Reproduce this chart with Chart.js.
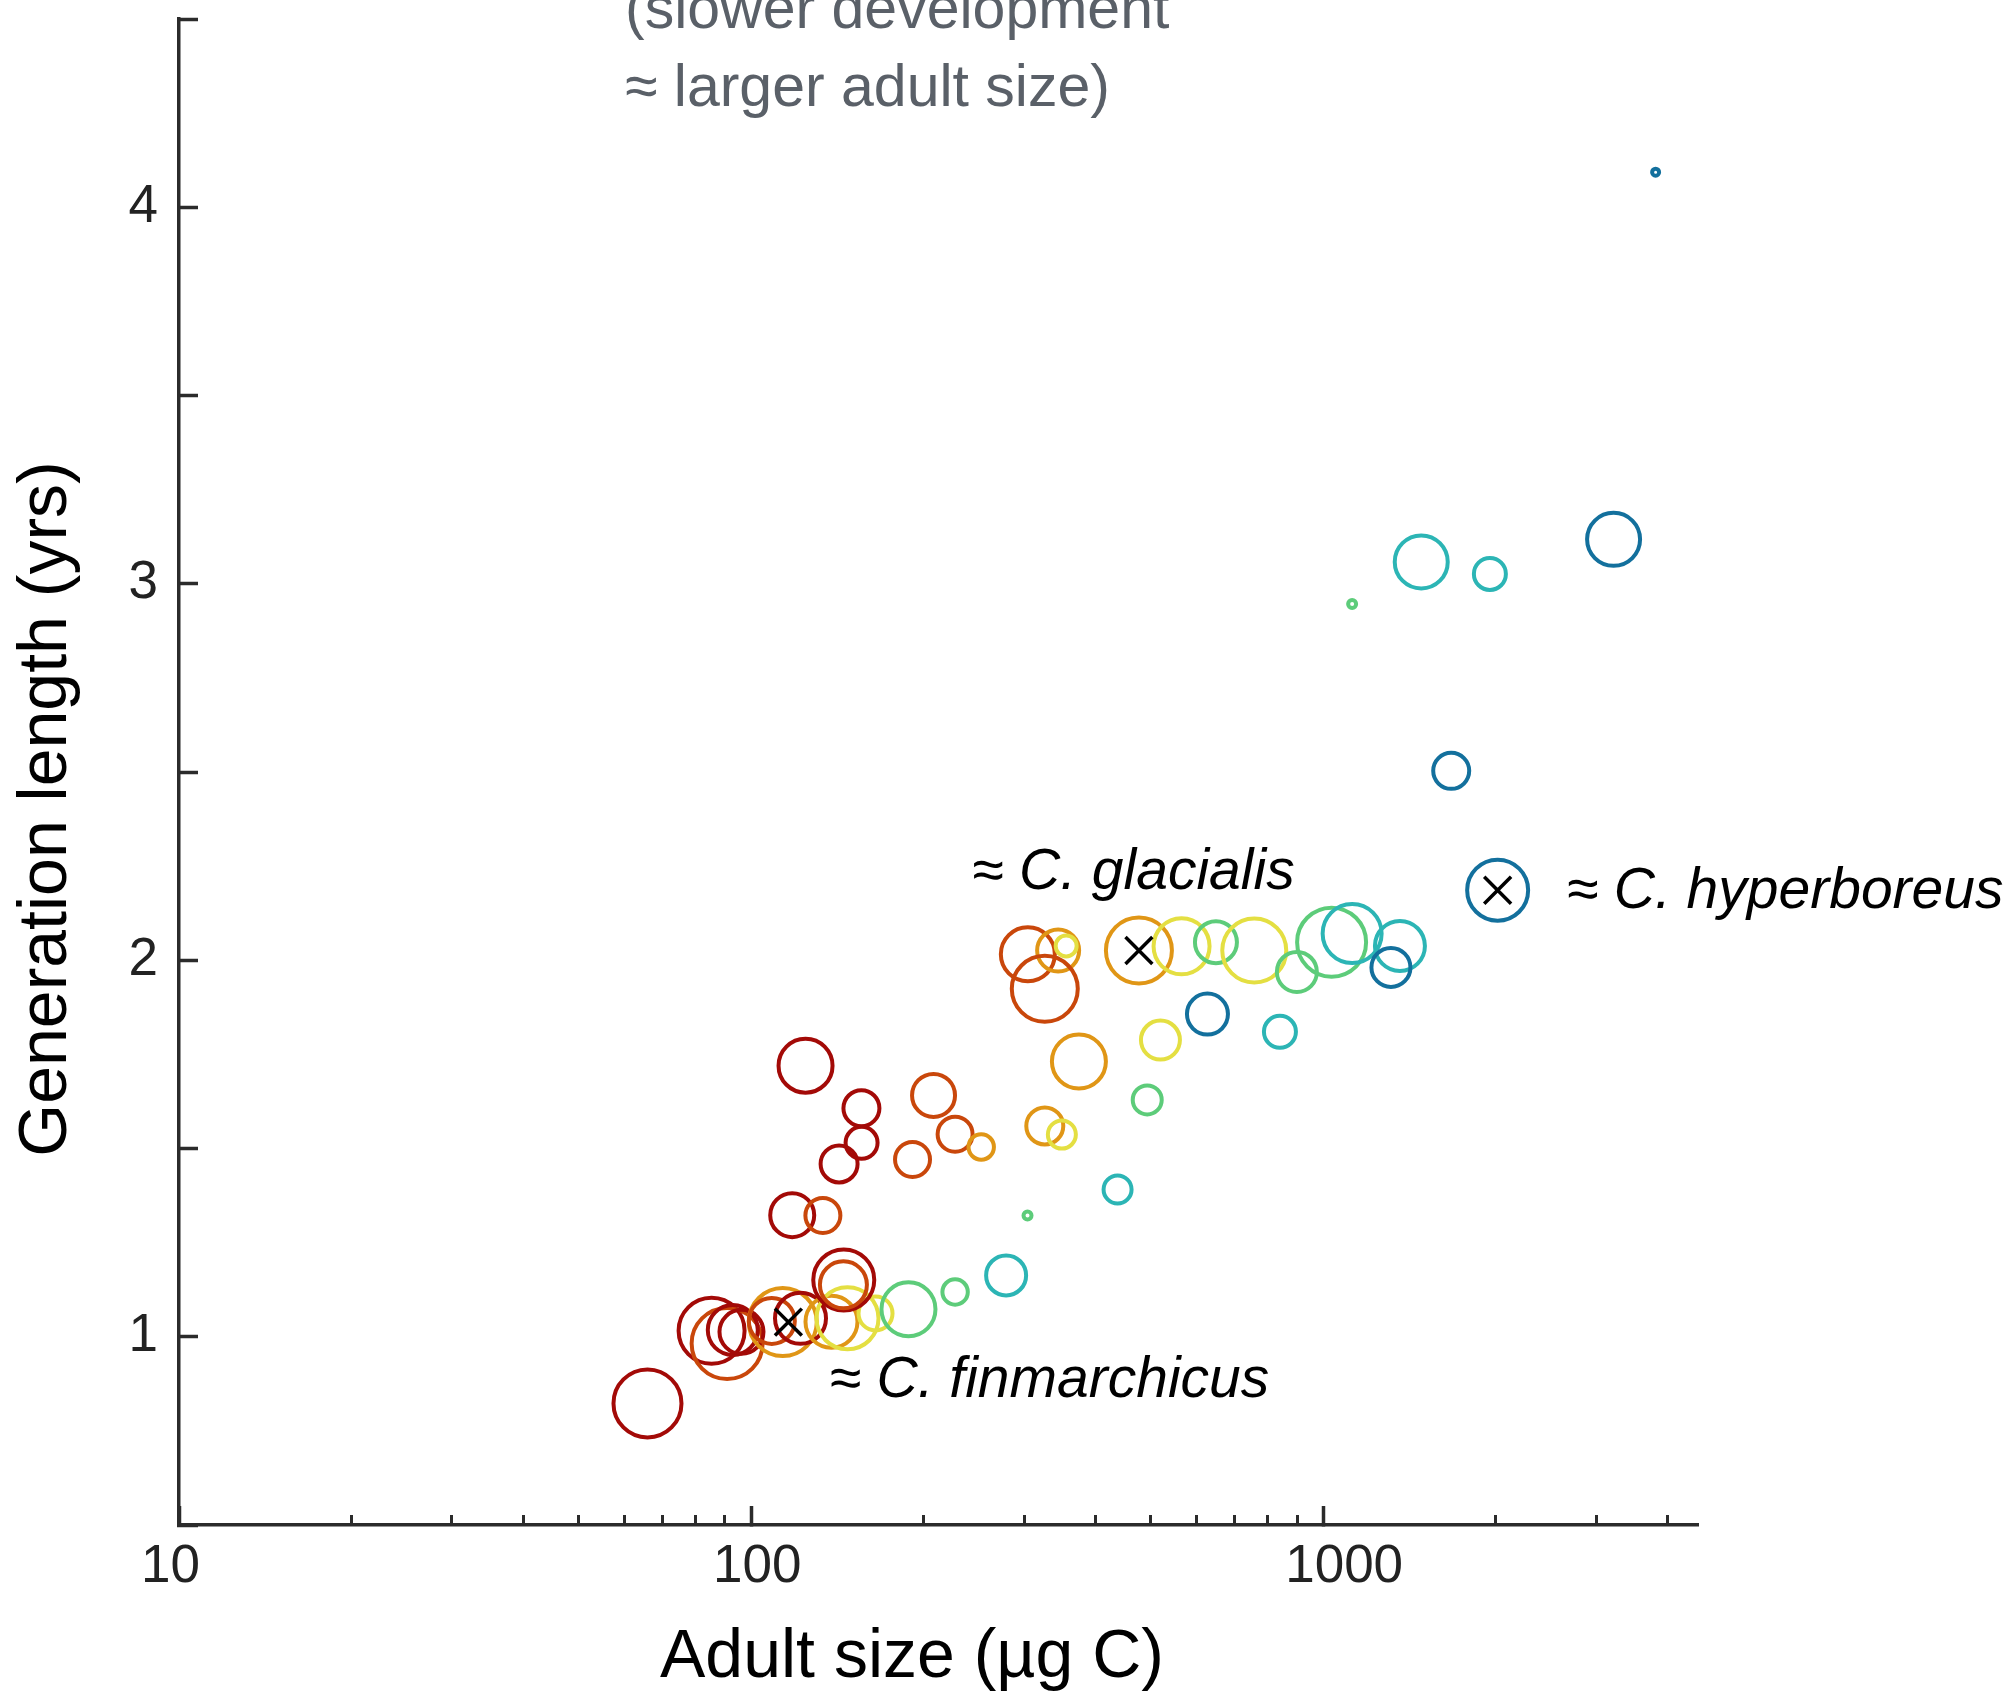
<!DOCTYPE html>
<html>
<head>
<meta charset="utf-8">
<title>Generation length vs adult size</title>
<script src="https://cdn.jsdelivr.net/npm/chart.js@4/dist/chart.umd.min.js"></script>
<style>
  html, body { margin: 0; padding: 0; background: #ffffff; }
  #wrap { width: 2014px; height: 1694px; }
  canvas { display: block; }
</style>
</head>
<body>
<div id="wrap"><canvas id="chart" width="2014" height="1694"></canvas></div>
<script>
// ---- data -------------------------------------------------------------
// adult body carbon (µg C) and generation length (years) per model population
const adultSize = [
  65.9, 85.3, 90.8, 92.9, 96.2, 113.6, 108.7, 122.0, 138.2, 147.4,
  165.0, 145.2, 145.0, 188.4, 227.3, 279.1, 304.2, 437.1, 118.0, 133.5,
  142.5, 156.0, 155.9, 124.5, 191.5, 208.4, 227.3, 252.5, 326.1, 349.3,
  374.1, 492.5, 519.4, 627.6, 840.2, 304.6, 344.1, 355.4, 326.1, 476.3,
  565.5, 649.4, 757.7, 899.5, 1034.4, 1123.5, 1361.8, 1313.4, 2018, 1674,
  1123.5, 1483.8, 1956, 3218, 3811
];
const generationYears = [
  0.823, 1.016, 0.982, 1.018, 1.013, 1.039, 1.042, 1.049, 1.040, 1.049,
  1.062, 1.151, 1.138, 1.073, 1.119, 1.163, 1.322, 1.391, 1.323, 1.322,
  1.459, 1.515, 1.607, 1.720, 1.471, 1.641, 1.538, 1.504, 1.560, 1.537,
  1.731, 1.629, 1.788, 1.857, 1.810, 2.016, 2.026, 2.038, 1.924, 2.026,
  2.037, 2.048, 2.026, 1.969, 2.048, 2.071, 2.038, 1.981, 2.186, 2.503,
  2.946, 3.058, 3.026, 3.118, 4.093
];
// bubble radius (px) per population
const bubbleRadius = [
  34, 33, 35.5, 25, 22, 34, 23, 25.5, 26, 31,
  17, 30.5, 23.5, 27, 12.7, 20, 4, 14, 22, 17.5,
  18.5, 16, 18, 27, 17.5, 21.5, 17.5, 12.7, 18.5, 14,
  27, 14.5, 19.5, 20.5, 16, 27, 21, 10.5, 33, 33,
  28, 21, 32, 20, 34.5, 29.5, 25, 19.5, 30.5, 18,
  4, 26.5, 16, 26.5, 3.5
];
// colour class per population (0 = warmest ... 6 = coldest)
const colourClass = [
  0, 0, 1, 0, 0, 2, 1, 0, 2, 3,
  3, 0, 1, 4, 4, 5, 4, 5, 0, 1,
  0, 0, 0, 0, 1, 1, 1, 2, 2, 3,
  2, 4, 3, 6, 5, 1, 2, 3, 1, 2,
  3, 4, 3, 4, 4, 5, 5, 6, 6, 6,
  4, 5, 5, 6, 6
];
const classColours = ['#a30a07', '#c9470b', '#e09616', '#e4df42', '#5dcc7a', '#2cb5b5', '#13709d'];

// named reference species
const speciesNames = ['≈ C. finmarchicus', '≈ C. glacialis', '≈ C. hyperboreus'];
const speciesSize  = [116.2, 476.3, 2018];
const speciesGen   = [1.039, 2.026, 2.186];

// axis ticks
const xMajorTicks = [10, 100, 1000];
const xMinorTicks = [20, 30, 40, 50, 60, 70, 80, 90, 200, 300, 400, 500, 600, 700, 800, 900, 2000, 3000, 4000];
const yTicks      = [0.5, 1, 1.5, 2, 2.5, 3, 3.5, 4, 4.5];
const yTickLabels = ['', '1', '', '2', '', '3', '', '4', ''];

// titles and notes
const xTitle = 'Adult size (µg C)';
const yTitle = 'Generation length (yrs)';
const noteLines = ['(slower development', '≈ larger adult size)'];

// ---- chart ------------------------------------------------------------
const AXIS = '#2b2b2b';
const FONT = '"Liberation Sans", Arial, sans-serif';

const bubbles = adultSize.map((x, i) => ({ x, y: generationYears[i], r: bubbleRadius[i] }));
const bubbleColours = colourClass.map(c => classColours[c]);
const speciesPoints = speciesSize.map((x, i) => ({ x, y: speciesGen[i] }));

// offsets of the species labels from their markers
const labelOffsets = [[41, 75], [-167, -61], [69, 18]];

// keep the axes from reserving extra room for their end labels
const noEdgePadding = s => {
  s.paddingTop = 0; s.paddingBottom = 0; s.paddingLeft = 0; s.paddingRight = 0;
};

const textPlugin = {
  id: 'chartText',
  afterDraw(chart) {
    const ctx = chart.ctx;
    const xs = chart.scales.x, ys = chart.scales.y;
    ctx.save();
    // species labels
    ctx.fillStyle = '#000';
    ctx.font = 'italic 57px ' + FONT;
    ctx.textAlign = 'left';
    ctx.textBaseline = 'alphabetic';
    speciesNames.forEach((name, i) => {
      const px = xs.getPixelForValue(speciesSize[i]);
      const py = ys.getPixelForValue(speciesGen[i]);
      ctx.fillText(name, px + labelOffsets[i][0], py + labelOffsets[i][1]);
    });
    // note at the top
    ctx.fillStyle = '#5a6068';
    ctx.font = '59px ' + FONT;
    ctx.fillText(noteLines[0], 625, 28);
    ctx.fillText(noteLines[1], 625, 106);
    // axis titles
    ctx.fillStyle = '#000';
    ctx.font = '68px ' + FONT;
    ctx.textAlign = 'center';
    ctx.fillText(xTitle, 912, 1677);
    ctx.translate(66, 809);
    ctx.rotate(-Math.PI / 2);
    ctx.fillText(yTitle, 0, 0);
    ctx.restore();
  }
};

new Chart(document.getElementById('chart'), {
  type: 'bubble',
  data: {
    datasets: [
      {
        type: 'scatter',
        label: 'reference species',
        data: speciesPoints,
        pointStyle: 'crossRot',
        pointRadius: 19,
        borderWidth: 3.5,
        borderColor: '#000',
        backgroundColor: '#000',
        order: 0
      },
      {
        label: 'populations',
        data: bubbles,
        pointStyle: 'circle',
        borderColor: bubbleColours,
        backgroundColor: 'rgba(0,0,0,0)',
        borderWidth: 4,
        order: 1
      }
    ]
  },
  options: {
    responsive: false,
    animation: false,
    devicePixelRatio: 1,
    events: [],
    layout: { autoPadding: false, padding: { left: 0, top: 19, right: 316, bottom: 0 } },
    plugins: { legend: { display: false }, tooltip: { enabled: false } },
    scales: {
      x: {
        type: 'logarithmic',
        position: 'bottom',
        min: 10,
        max: 4520,
        afterBuildTicks: s => { s.ticks = xMajorTicks.map(v => ({ value: v, major: true })); },
        afterFit: s => { s.height = 169; noEdgePadding(s); },
        grid: { drawOnChartArea: false, drawTicks: true, tickLength: -19, tickWidth: 3.5, tickColor: AXIS },
        border: { display: true, color: AXIS, width: 3.5 },
        ticks: {
          autoSkip: false, maxRotation: 0, padding: 30, color: '#222',
          align: 'start', labelOffset: -38,
          font: { family: FONT, size: 53 },
          callback: v => String(v)
        }
      },
      xMinor: {
        type: 'logarithmic',
        axis: 'x',
        position: { y: 0.5 },
        min: 10,
        max: 4520,
        afterBuildTicks: s => { s.ticks = xMinorTicks.map(v => ({ value: v })); },
        afterFit: noEdgePadding,
        grid: { drawOnChartArea: false, drawTicks: true, tickLength: -10, tickWidth: 3, tickColor: AXIS },
        border: { display: false },
        ticks: { display: false }
      },
      y: {
        type: 'linear',
        position: 'left',
        min: 0.5,
        max: 4.5,
        afterBuildTicks: s => { s.ticks = yTicks.map(v => ({ value: v })); },
        afterFit: s => { s.width = 179; noEdgePadding(s); },
        grid: { drawOnChartArea: false, drawTicks: true, tickLength: -19, tickWidth: 3.5, tickColor: AXIS },
        border: { display: true, color: AXIS, width: 3.5 },
        ticks: {
          autoSkip: false, padding: 40, color: '#222',
          font: { family: FONT, size: 53 },
          callback: (v, i) => yTickLabels[i]
        }
      }
    }
  },
  plugins: [textPlugin]
});
</script>
</body>
</html>
